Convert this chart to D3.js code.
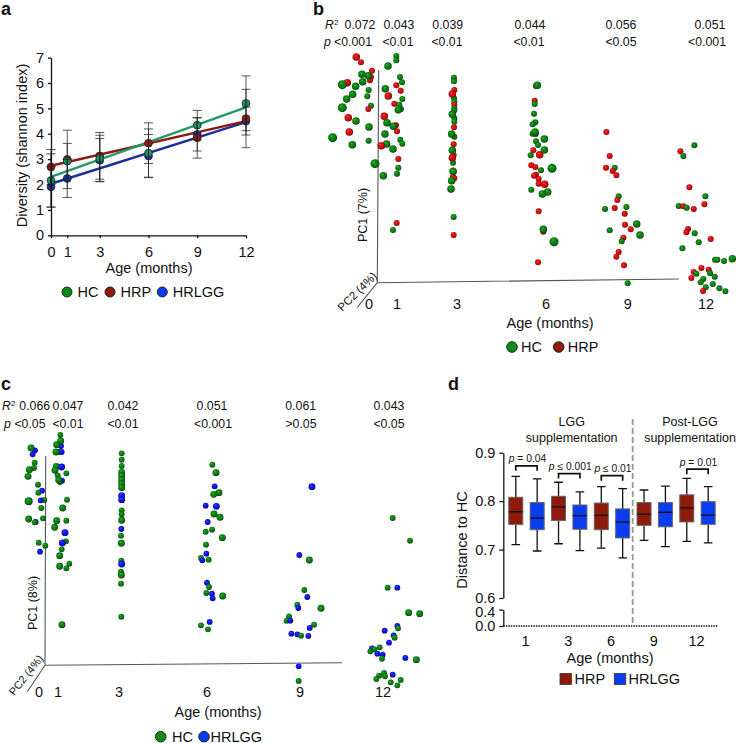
<!DOCTYPE html>
<html><head><meta charset="utf-8">
<script src="https://cdn.jsdelivr.net/npm/d3@7"></script>
<style>
html,body{margin:0;padding:0;background:#fff}
svg{display:block}
text{font-family:"Liberation Sans",Arial,sans-serif;fill:#111}
</style></head><body><svg id="c" width="736" height="743"></svg>
<script>
// ---------- panel a ----------
const aAges=[0,1,3,6,9,12];
const aYTicks=[0,1,2,3,4,5,6,7];
const aHC=[2.16,2.92,3.03,3.24,4.34,5.2];
const aHRP=[2.69,2.99,3.13,3.63,3.84,4.6];
const aHRLGG=[1.91,2.24,2.96,3.12,3.97,4.5];
const aHCsd=[1.05,0.7,0.91,0.95,0.58,1.08];
const aHRPsd=[0.69,1.15,0.92,0.8,0.8,1.15];
const aHRLGGsd=[0.8,0.75,0.85,0.85,0.65,0.55];
const aHCtrend=[2.3,5.04];
const aHRPtrend=[2.74,4.5];
const aHRLGGtrend=[2.03,4.46];
// ---------- panels b, c: ordination scores [axis reading, PC1 reading, PC2 depth 0-2] ----------
const bHC=[[186,223,1],[205,227,1],[188,245,1],[127,254,2],[167,259,1],[206,270,0],[202,289,0],[158,283,1],[140,297,1],[213,317,0],[127,323,2],[168,363,1],[207,381,1],[98,413,2],[157,434,1],[206,422,0],[225,491,2],[250,527,1],
[289,168,0],[289,181,0],[264,198,1],[300,231,0],[306,247,0],[256,266,1],[307,297,0],[298,314,0],[295,329,1],[303,327,0],[261,368,1],[280,379,1],[255,402,1],[301,419,0],[307,431,0],[260,432,1],[279,447,1],[295,503,0],[291,521,0],[279,690,0],
[462,233,0],[462,244,0],[462,295,0],[463,306,0],[463,331,0],[457,343,1],[463,355,0],[463,365,0],[455,402,1],[463,410,0],[457,451,1],[459,488,0],[459,514,1],[455,542,1],[453,567,1],[461,651,0],[458,470,0],[463,325,0],
[712,256,1],[704,312,0],[702,341,0],[706,367,0],[698,373,0],[705,396,1],[698,401,0],[707,402,0],[708,424,0],[714,435,0],[733,417,1],[733,450,1],[692,466,0],[756,505,2],[723,511,0],[694,569,0],[727,582,1],[743,576,1],[730,688,1],[762,725,2],
[944,503,0],[956,589,0],[979,621,0],[915,627,0],[1010,672,1],[1020,705,1],[929,691,0],[965,724,0],[983,850,0],
[1183,436,0],[1150,468,0],[1216,589,0],[1136,618,0],[1160,623,0],[1184,700,0],[1196,727,0],[1147,745,0],[1245,779,0],[1252,779,0],[1272,783,0],[1297,776,1],[1189,821,0],[1230,820,0],[1244,830,0],[1210,837,0],[1202,847,0],[1238,852,0],[1217,862,0],[1258,865,0],[1276,874,0]];
const bHRP=[[169,171,1],[183,187,0],[216,212,0],[142,248,1],[210,241,0],[205,327,0],[145,353,1],[148,396,1],[244,437,1],[213,231,0],
[289,256,0],[302,272,0],[265,288,1],[283,311,0],[253,349,1],[288,376,0],[291,394,0],[295,477,0],[290,669,0],
[463,270,0],[457,282,1],[463,314,0],[462,382,0],[461,433,0],[461,465,0],[457,473,1],[461,515,0],[459,530,0],[463,535,0],[461,705,0],
[708,258,0],[704,302,0],[700,451,0],[719,464,1],[694,496,0],[706,501,0],[702,527,0],[708,524,0],[716,537,0],[716,551,0],[734,553,1],[716,634,0],[730,695,0],[714,787,0],
[919,396,0],[929,468,0],[918,503,0],[938,513,0],[949,526,0],[952,600,0],[944,624,0],[974,641,0],[975,674,0],[992,688,0],[970,713,0],[956,756,0],[949,770,0],[972,796,0],
[1141,454,0],[1168,562,0],[1213,613,0],[1150,619,0],[1181,627,0],[1164,687,0],[1159,697,0],[1232,717,0],[1204,804,0],[1181,816,0],[1226,809,0],[1174,834,0],[1209,873,0]];
const cHC=[[93,234,1],[104,278,0],[102,294,0],[88,299,1],[84,319,1],[114,344,0],[115,368,0],[86,394,2],[133,390,0],[124,414,0],[86,447,1],[129,445,0],[104,457,0],[116,518,0],[136,527,0],
[181,195,0],[182,213,1],[170,224,1],[168,246,1],[176,246,0],[169,289,1],[165,301,1],[199,310,0],[173,316,0],[176,330,1],[180,336,0],[201,389,0],[188,414,1],[170,452,1],[199,452,0],[164,472,1],[198,514,0],[185,538,0],[179,557,1],[179,589,1],[208,581,0],[199,595,0],[186,764,1],
[365,250,0],[365,269,0],[365,288,0],[365,307,1],[365,318,1],[365,330,1],[365,342,1],[365,353,1],[365,421,0],[365,433,0],[365,451,1],[363,497,0],[364,520,1],[364,572,0],[363,605,0],[364,615,1],[363,641,0],[364,740,0],
[637,284,0],[648,308,1],[641,373,1],[657,368,1],[642,432,1],[660,442,1],[617,485,0],[636,479,0],[667,503,1],[618,524,0],[603,564,0],[626,569,0],[627,651,0],[619,669,0],[668,678,1],[603,766,0],[624,778,0],
[928,570,1],[913,660,0],[892,704,0],[963,715,1],[867,739,0],[860,752,0],[942,764,0],[903,797,0],[896,933,0],
[1178,444,0],[1230,512,0],[1163,653,0],[1226,728,1],[1259,731,1],[1194,775,0],[1184,803,0],[1139,832,0],[1123,838,0],[1111,844,0],[1146,866,0],[1249,869,1],[1152,909,0],[1137,917,0],[1129,927,0],[1155,919,0],[1172,937,0],[1202,930,0],[1192,946,0]];
const cHRLGG=[[105,241,0],[98,253,0],[126,362,0],[122,391,0],[107,456,0],[120,545,0],
[183,228,0],[185,246,0],[185,291,1],[186,332,0],[195,488,1],[187,519,1],
[365,377,1],[365,389,1],[364,477,0],[365,582,1],
[644,349,0],[617,407,0],[649,409,1],[623,456,0],[619,551,0],[607,571,0],[621,638,0],[636,671,0],[638,685,0],[629,756,0],
[936,350,1],[898,555,0],[922,681,0],[895,714,0],[871,752,0],[929,774,0],[874,791,0],[892,793,0],[925,798,0],[896,889,0],
[1192,653,0],[1154,782,0],[1192,768,0],[1181,796,0],[1167,818,0],[1116,835,0],[1132,851,0],[1148,854,0],[1216,864,0],[1178,914,0]];
const bAgeLabels=["0","1","3","6","9","12"];
const bR2=["0.072","0.043","0.039","0.044","0.056","0.051"];
const bP=["<0.001","<0.01","<0.01","<0.01","<0.05","<0.001"];
const cR2=["0.066","0.047","0.042","0.051","0.061","0.043"];
const cP=["<0.05","<0.01","<0.01","<0.001",">0.05","<0.05"];
// ---------- panel d: [low whisker, q1, median, q3, high whisker] ----------
const dAges=[1,3,6,9,12];
const dHRP=[[.710,.752,.778,.808,.851],[.712,.760,.788,.810,.839],[.703,.741,.771,.796,.830],[.719,.750,.773,.797,.823],[.717,.757,.786,.813,.847]];
const dHRLGG=[[.697,.741,.765,.797,.846],[.698,.742,.770,.792,.819],[.683,.724,.757,.784,.826],[.706,.747,.777,.797,.831],[.714,.752,.771,.799,.830]];
const dUpperTicks=[.6,.7,.8,.9];
const dLowerTicks=[0,.4];
const dBrackets=[[0,"p"," = 0.04",.873],[1,"p"," ≤ 0.001",.857],[2,"p"," ≤ 0.01",.8525],[4,"p"," = 0.01",.866]];

const GREEN="#0c8c16",RED="#8e1a0c",BLUE="#0a3df0";
const FS=14.5;
const svg=d3.select("#c");
const defs=svg.append("defs");
function grad(id,hi,mid,mid2,edge){
  const g=defs.append("radialGradient").attr("id",id).attr("cx","48%").attr("cy","48%").attr("r","54%").attr("fx","36%").attr("fy","30%");
  g.append("stop").attr("offset","0%").attr("stop-color",hi);
  g.append("stop").attr("offset","35%").attr("stop-color",mid);
  g.append("stop").attr("offset","78%").attr("stop-color",mid2);
  g.append("stop").attr("offset","100%").attr("stop-color",edge);
}
grad("sg","#3cb83c","#0b8a12","#0a7510","#021f05");
grad("sr","#f05050","#dc1010","#c80c0c","#3a0303");
grad("sb","#4a58ff","#1018ee","#0c12d8","#03053a");

function label(x,y,t,o={}){
  const e=svg.append("text").attr("x",x).attr("y",y).attr("font-size",o.size||FS).attr("text-anchor",o.anchor||"middle").text(t);
  if(o.bold)e.attr("font-weight","bold");
  if(o.italic)e.attr("font-style","italic");
  if(o.rotate!==undefined)e.attr("transform",`rotate(${o.rotate} ${x} ${y})`);
  return e;
}
function dot(x,y,r,fill){svg.append("circle").attr("cx",x).attr("cy",y).attr("r",r).attr("fill",fill).attr("stroke","#222").attr("stroke-width",1);}
function styleAxis(g,w){g.selectAll("path,line").attr("stroke","#111").attr("stroke-width",w||1.3);g.selectAll("text").attr("font-size",FS).attr("fill","#111").style("font-family",'"Liberation Sans",Arial,sans-serif');}

// panel letters
[["a",1,15],["b",313,15],["c",1,390],["d",448,390]].forEach(d=>label(d[1],d[2],d[0],{size:18,bold:true,anchor:"start"}));

// ===== panel a =====
(function(){
  const x=d3.scaleLinear().domain([0,12]).range([51,246]);
  const y=d3.scaleLinear().domain([0,7]).range([235.3,57.6]);
  const series=[
    {k:"HRLGG",v:aHRLGG,sd:aHRLGGsd,t:aHRLGGtrend,c:"#1a2f9c",f:"#17369f"},
    {k:"HRP",v:aHRP,sd:aHRPsd,t:aHRPtrend,c:"#8a1a14",f:"#96190f"},
    {k:"HC",v:aHC,sd:aHCsd,t:aHCtrend,c:"#1f9a66",f:"#1c9560"}];
  const ga=svg.append("g");
  series.forEach(s=>{
    ga.append("line").attr("x1",x(0)).attr("x2",x(12)).attr("y1",y(s.t[0])).attr("y2",y(s.t[1])).attr("stroke",s.c).attr("stroke-width",2.4);
  });
  series.forEach(s=>{
    s.v.forEach((v,i)=>ga.append("circle").attr("cx",x(aAges[i])).attr("cy",y(v)).attr("r",3.9).attr("fill",s.f).attr("stroke","#222").attr("stroke-width",.8));
  });
  series.forEach(s=>{
    s.v.forEach((v,i)=>{
      const cx=x(aAges[i]),hi=y(v+s.sd[i]),lo=y(v-s.sd[i]);
      ga.append("path").attr("d",`M${cx},${hi}V${lo}M${cx-4.5},${hi}H${cx+4.5}M${cx-4.5},${lo}H${cx+4.5}`).attr("stroke","#222").attr("stroke-width",.9).attr("stroke-opacity",.85).attr("fill","none");
    });
  });
  svg.append("g").attr("transform","translate(51,0)").call(d3.axisLeft(y).tickValues(aYTicks).tickFormat(d3.format("d")).tickSize(3).tickSizeOuter(0).tickPadding(4)).call(styleAxis);
  svg.append("g").attr("transform","translate(0,235.3)").call(d3.axisBottom(x).tickValues(aAges).tickFormat(d3.format("d")).tickSize(3).tickSizeOuter(0).tickPadding(8)).call(styleAxis);
  label(149,272.5,"Age (months)");
  label(26.5,145.5,"Diversity (shannon index)",{rotate:-90});
  [[67,GREEN,"HC"],[110,RED,"HRP"],[162.3,BLUE,"HRLGG"]].forEach(d=>{dot(d[0],292,5,d[1]);label(d[0]+10.5,297,d[2],{anchor:"start"});});
})();

// ===== scatter panels =====
function scatter(o){
  const x=d3.scaleLinear().domain(o.xRead).range(o.xPx);
  const y=d3.scaleLinear().domain(o.yRead).range(o.yPx);
  const r=d3.scaleLinear().domain([0,2]).range(o.rr);
  const g=svg.append("g");
  g.append("path").attr("d",`M${o.top[0]},${o.top[1]}L${x(o.xRead[0])},${y(o.yRead[0])}L${o.end[0]},${o.end[1]}M${x(o.xRead[0])},${y(o.yRead[0])}L${o.diag[0]},${o.diag[1]}`).attr("fill","none").attr("stroke","#555").attr("stroke-width",1.1);
  const pts=o.a.map(d=>({d,f:"url(#sg)"})).concat(o.b.map(d=>({d,f:o.fill})));
  pts.sort((p,q)=>(p.d[2]-q.d[2])||(p.d[1]-q.d[1]));
  g.selectAll("circle").data(pts).join("circle")
   .attr("cx",p=>x(p.d[0])).attr("cy",p=>y(p.d[1])).attr("r",p=>r(p.d[2])).attr("fill",p=>p.f);
}
// b
scatter({a:bHC,b:bHRP,fill:"url(#sr)",xRead:[232,1136],xPx:[377.3,678.7],yRead:[848,210],yPx:[282.7,70],top:[378.7,70],end:[678.7,279],diag:[357.3,307.3],rr:[3,4.5]});
[369,397,457,546,627.7,706].forEach((px,i)=>label(px,309,bAgeLabels[i]));
label(550,328,"Age (months)");
label(366.5,215,"PC1 (7%)",{rotate:-90,size:12.5});
label(360,294.4,"PC2 (4%)",{rotate:-45,size:11.5});
[360,399,447.7,530,621,710].forEach((px,i)=>label(px,28.5,bR2[i],{size:12.3}));
[353,398,447,529,621,707].forEach((px,i)=>label(px,46,bP[i],{size:12.3}));
(function(){const t=label(325,28.5,"R",{size:12.3,italic:true,anchor:"start"});t.append("tspan").attr("dy",-4).attr("font-size",8).attr("font-style","normal").text("2");})();
label(324,46,"p",{size:12.3,italic:true,anchor:"start"});
dot(512,347,5.3,GREEN);label(521,352,"HC",{anchor:"start"});
dot(558.7,347,5.3,RED);label(567.7,352,"HRP",{anchor:"start"});
// c
scatter({a:cHC,b:cHRLGG,fill:"url(#sb)",xRead:[135,1026],xPx:[45,342],yRead:[886,258],yPx:[665.3,456],top:[45.7,456],end:[342,662.7],diag:[27.3,691.7],rr:[2.9,4]});
[39,58,119,207,300,383].forEach((px,i)=>label(px,697,bAgeLabels[i]));
label(218,717,"Age (months)");
label(36.5,603,"PC1 (8%)",{rotate:-90,size:12.5});
label(29,677.5,"PC2 (4%)",{rotate:-52,size:11});
[34.7,68,123,212,300.7,389].forEach((px,i)=>label(px,410,cR2[i],{size:12.3}));
[30,68,123,213,301,389].forEach((px,i)=>label(px,427.5,cP[i],{size:12.3}));
(function(){const t=label(2,410,"R",{size:12.3,italic:true,anchor:"start"});t.append("tspan").attr("dy",-4).attr("font-size",8).attr("font-style","normal").text("2");})();
label(4,427.5,"p",{size:12.3,italic:true,anchor:"start"});
dot(160.7,736.7,5.3,GREEN);label(172,741.5,"HC",{anchor:"start"});
dot(204,736.7,5.3,BLUE);label(210.5,741.5,"HRLGG",{anchor:"start"});

// ===== panel d =====
(function(){
  const yU=d3.scaleLinear().domain([.6,.9]).range([598,452.7]);
  const yL=d3.scaleLinear().domain([0,.4]).range([626,609.7]);
  const band=d3.scaleBand().domain(dAges).range([505.1,718.85]);
  const off=d3.scaleBand().domain(["HRP","HRLGG"]).range([0,band.bandwidth()]);
  const bw=14;
  const cxOf=(i,k)=>band(dAges[i])+off(k)+off.bandwidth()/2;
  [["HRP",dHRP,"#8e1a0c"],["HRLGG",dHRLGG,"#0a3df0"]].forEach(([k,arr,col])=>{
    arr.forEach((s,i)=>{
      const cx=cxOf(i,k);
      const g=svg.append("g");
      g.append("path").attr("d",`M${cx},${yU(s[0])}V${yU(s[4])}M${cx-4.3},${yU(s[0])}H${cx+4.3}M${cx-4.3},${yU(s[4])}H${cx+4.3}`).attr("stroke","#111").attr("stroke-width",1.3).attr("fill","none");
      g.append("rect").attr("x",cx-bw/2).attr("width",bw).attr("y",yU(s[3])).attr("height",yU(s[1])-yU(s[3])).attr("fill",col).attr("stroke","#666").attr("stroke-width",1);
      g.append("line").attr("x1",cx-bw/2).attr("x2",cx+bw/2).attr("y1",yU(s[2])).attr("y2",yU(s[2])).attr("stroke","#111").attr("stroke-width",1.3);
    });
  });
  svg.append("g").attr("transform","translate(503.3,0)").call(d3.axisLeft(yU).tickValues(dUpperTicks).tickFormat(d3.format(".1f")).tickSize(4).tickSizeOuter(0).tickPadding(4)).call(styleAxis);
  const low=svg.append("g").attr("transform","translate(503.3,0)").call(d3.axisLeft(yL).tickValues(dLowerTicks).tickFormat(d3.format(".1f")).tickSize(4).tickSizeOuter(0).tickPadding(4)).call(styleAxis);
  low.selectAll(".tick").filter(d=>d===.4).select("text").attr("y",2);
  const xAxisPos=yL(0);
  svg.append("line").attr("x1",503.3).attr("x2",718.3).attr("y1",xAxisPos).attr("y2",xAxisPos).attr("stroke","#111").attr("stroke-width",1.6).attr("stroke-dasharray","1.5 1");
  dAges.forEach((a,i)=>label(band(a)+band.bandwidth()/2-1,646,String(a)));
  svg.append("line").attr("x1",632.7).attr("x2",632.7).attr("y1",419).attr("y2",626).attr("stroke","#999").attr("stroke-width",1.8).attr("stroke-dasharray","6 3");
  dBrackets.forEach(([i,p,rest,v])=>{
    const x1=cxOf(i,"HRP"),x2=cxOf(i,"HRLGG"),yb=yU(v);
    svg.append("path").attr("d",`M${x1},${yb+5}V${yb}H${x2}V${yb+5}`).attr("fill","none").attr("stroke","#111").attr("stroke-width",1.7);
    const t=label((x1+x2)/2+1,yb-3.5,"",{size:10.3});
    t.append("tspan").attr("font-style","italic").text(p);
    t.append("tspan").text(rest);
  });
  label(571.7,426,"LGG",{size:12.5});label(571.7,441.5,"supplementation",{size:12.5});
  label(690,426,"Post-LGG",{size:12.5});label(690,441.5,"supplementation",{size:12.5});
  label(467,540,"Distance to HC",{rotate:-90});
  label(610,663,"Age (months)");
  [[560,"#8e1a0c","HRP",574.5],[614.3,"#0a3df0","HRLGG",628.5]].forEach(d=>{
    svg.append("rect").attr("x",d[0]).attr("y",673.5).attr("width",11.5).attr("height",11).attr("fill",d[1]).attr("stroke","#333").attr("stroke-width",.8);
    label(d[3],684,d[2],{anchor:"start"});
  });
})();
</script></body></html>
